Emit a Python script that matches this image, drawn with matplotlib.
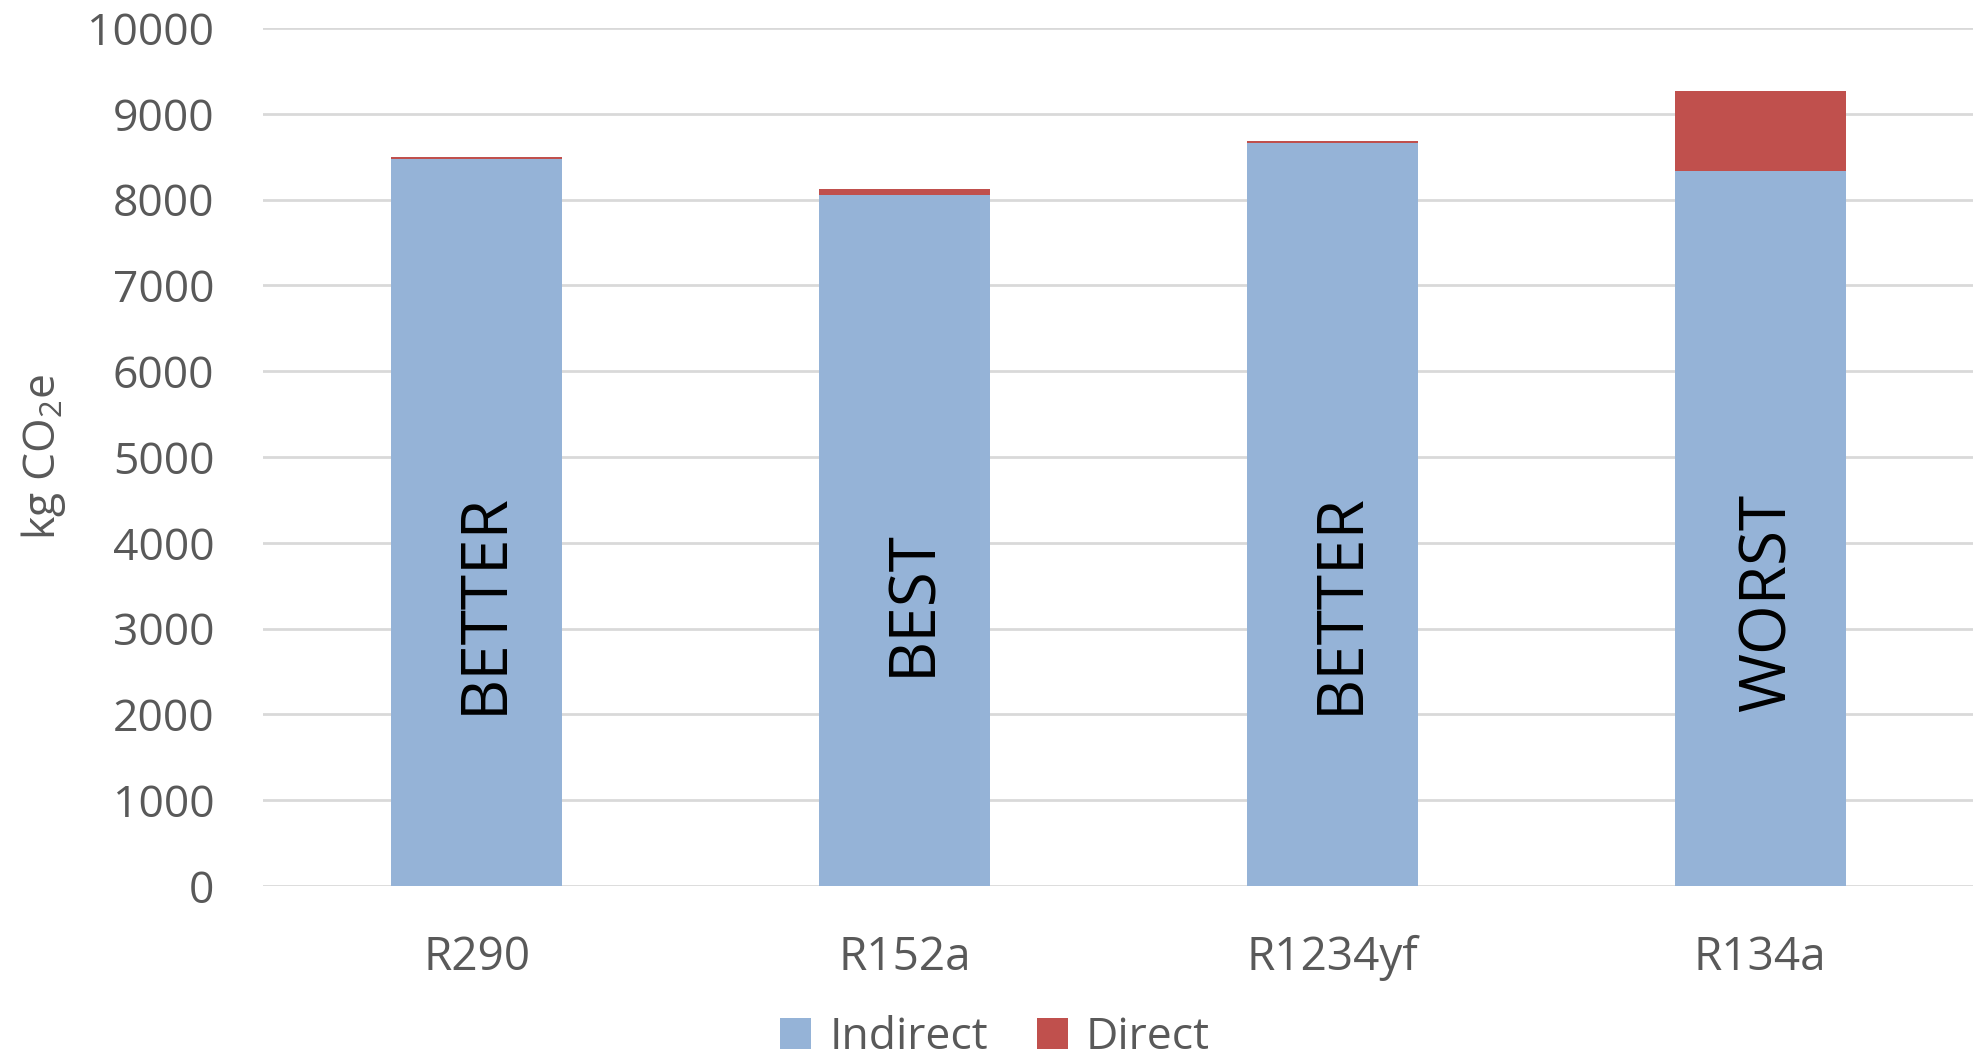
import matplotlib
matplotlib.use("Agg")
import matplotlib.pyplot as plt
import numpy as np

plt.rcParams['font.family'] = ['Open Sans', 'DejaVu Sans']
plt.rcParams['mathtext.fontset'] = 'custom'
plt.rcParams['mathtext.rm'] = 'Open Sans'
plt.rcParams['mathtext.default'] = 'regular'

refrigerants = ["R290", "R152a", "R1234yf", "R134a"]
indirect = [8475, 8055, 8660, 8335]
direct = [25, 70, 25, 930]
ratings = ["BETTER", "BEST", "BETTER", "WORST"]
y_ticks = [0, 1000, 2000, 3000, 4000, 5000, 6000, 7000, 8000, 9000, 10000]

blue = "#95B3D7"
red = "#C0504D"
grey_text = "#595959"
grid_col = "#D9D9D9"

fig = plt.figure(figsize=(19.74, 10.63), dpi=100)
ax = fig.add_axes([0.1332, 0.1665, 0.8668, 0.8072])

x = np.arange(len(refrigerants))
b1 = ax.bar(x, indirect, width=0.4, color=blue, label="Indirect", zorder=3)
b2 = ax.bar(x, direct, width=0.4, bottom=indirect, color=red, label="Direct", zorder=3)

for xi, r in zip(x, ratings):
    ax.annotate(r, xy=(xi, 3300), xytext=(6, 0), textcoords="offset points",
                rotation=90, ha="center", va="center",
                fontsize=46, color="black", zorder=4)

ax.set_xlim(-0.5, len(refrigerants) - 0.5)
ax.set_ylim(0, 10000)
ax.set_yticks(y_ticks)
ax.set_yticklabels([str(v) for v in y_ticks])
ax.set_xticks(x)
ax.set_xticklabels(refrigerants)
ax.tick_params(axis="both", length=0, labelcolor=grey_text)
ax.tick_params(axis="y", labelsize=32, pad=35)
ax.tick_params(axis="x", labelsize=33, pad=35)
ax.yaxis.grid(True, color=grid_col, linewidth=2, zorder=0)
ax.set_axisbelow(True)
for s in ax.spines.values():
    s.set_visible(False)

ax.set_ylabel("kg CO$_2$e", fontsize=32, color=grey_text, labelpad=14)

fig.legend(handles=[b1, b2], labels=["Indirect", "Direct"], loc="center",
           bbox_to_anchor=(995 / 1974, 1 - 1038 / 1063), ncol=2, frameon=False,
           fontsize=32, labelcolor=grey_text, handlelength=0.7, handleheight=0.7,
           handletextpad=0.4, columnspacing=1.1, borderpad=0.1)

fig.savefig("out.png", dpi=100)
